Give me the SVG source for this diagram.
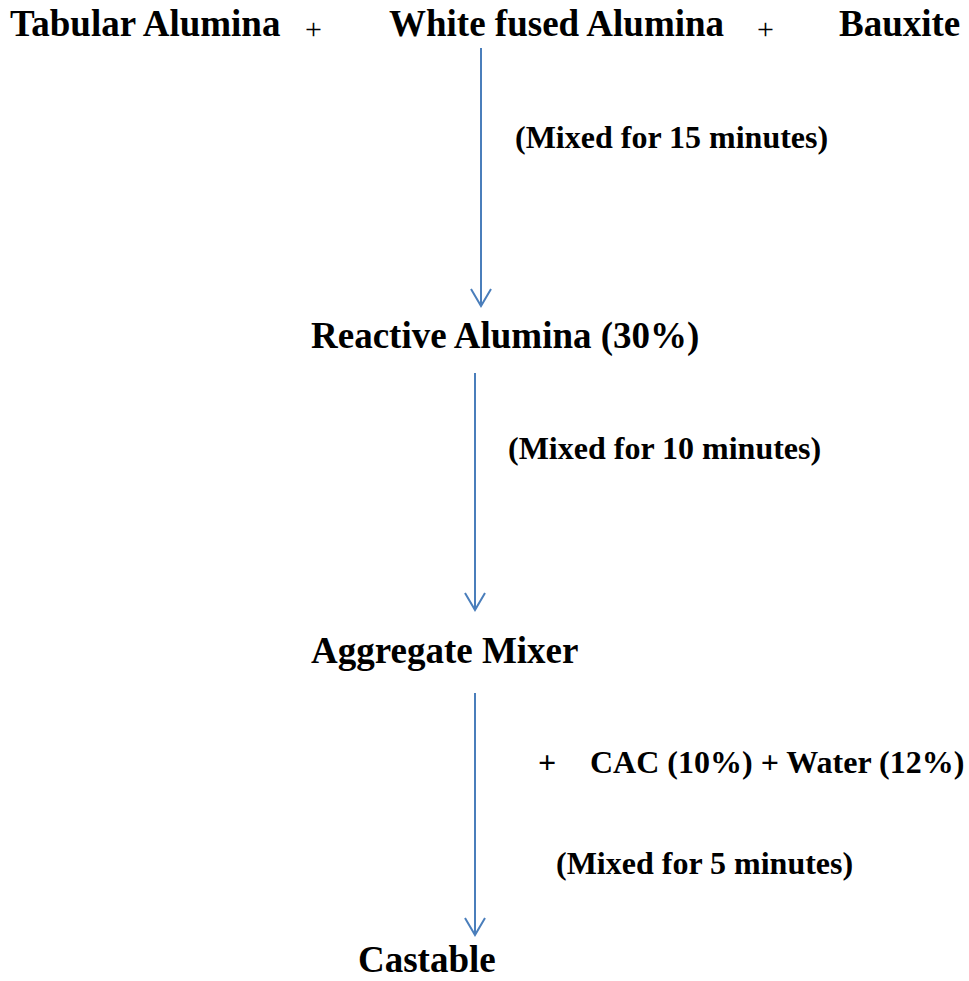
<svg xmlns="http://www.w3.org/2000/svg" width="969" height="981" viewBox="0 0 969 981">
<style>
.h{font-family:"Liberation Serif","Times New Roman",serif;font-weight:bold;font-size:37px;fill:#000}
.m{font-family:"Liberation Serif","Times New Roman",serif;font-weight:bold;font-size:32px;fill:#000}
.p{font-family:"Liberation Serif","Times New Roman",serif;font-size:30px;fill:#000}
.c{stroke:#4a7ebb;stroke-width:2;fill:none}
</style>
<defs>
<marker id="ah" markerUnits="userSpaceOnUse" markerWidth="22" markerHeight="24" refX="19" refY="12" orient="auto" viewBox="0 0 22 24">
<path d="M2 2 L19 12 L2 22" stroke="#4a7ebb" stroke-width="2" fill="none"/>
</marker>
</defs>
<rect width="969" height="981" fill="#fff"/>
<g id="connectors">
<line class="c" x1="481" y1="48" x2="481" y2="306" marker-end="url(#ah)"/>
<line class="c" x1="475" y1="373" x2="475" y2="610" marker-end="url(#ah)"/>
<line class="c" x1="475" y1="693" x2="475" y2="935" marker-end="url(#ah)"/>
</g>
<g id="inputs">
<text class="h" x="10" y="36">Tabular Alumina</text>
<text class="p" x="305" y="39">+</text>
<text class="h" x="389" y="36">White fused Alumina</text>
<text class="p" x="757" y="39">+</text>
<text class="h" x="839" y="36">Bauxite</text>
</g>
<g id="label1"><text class="m" x="515" y="148">(Mixed for 15 minutes)</text></g>
<g id="reactive"><text class="h" x="311" y="348">Reactive Alumina (30%)</text></g>
<g id="label2"><text class="m" x="508" y="459">(Mixed for 10 minutes)</text></g>
<g id="aggregate"><text class="h" x="311" y="663">Aggregate Mixer</text></g>
<g id="additives">
<text class="m" x="538" y="773">+</text>
<text class="m" x="590" y="773">CAC (10%) + Water (12%)</text>
</g>
<g id="label3"><text class="m" x="556" y="874">(Mixed for 5 minutes)</text></g>
<g id="castable"><text class="h" x="358" y="972">Castable</text></g>
</svg>
